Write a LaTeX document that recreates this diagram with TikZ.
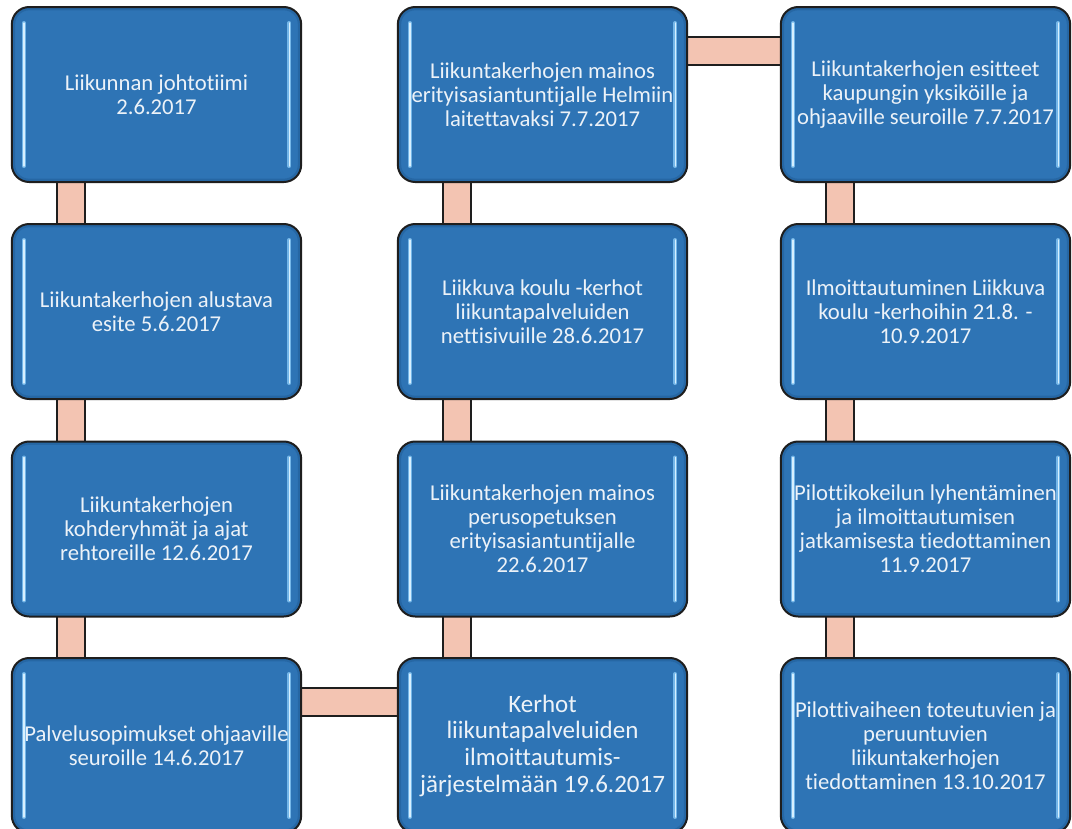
\documentclass[tikz,border=0pt]{standalone}
\usepackage{fontspec}
\setmainfont{Carlito}[RawFeature={-liga,-clig,-calt,-dlig}]
\usetikzlibrary{calc}
\definecolor{boxfill}{RGB}{46,116,181}
\definecolor{boxedge}{RGB}{30,30,30}
\definecolor{boxdark}{RGB}{30,88,145}
\definecolor{hlglow}{RGB}{140,205,250}
\definecolor{hlcore}{RGB}{215,240,255}
\definecolor{barfill}{RGB}{243,196,178}
\definecolor{txt}{RGB}{236,242,248}
\pgfdeclarelayer{background}
\pgfsetlayers{background,main}
\tikzset{
  stepbox/.style={
    draw=boxedge, line width=1.5pt, fill=boxfill, rounded corners=13pt,
    minimum width=217pt, minimum height=131.25pt, inner sep=0pt,
    text=txt, align=center, font=\fontsize{17}{18}\selectfont,
    path picture={
      \draw[boxdark, line width=5pt, opacity=0.45, rounded corners=13pt]
        (path picture bounding box.south west) rectangle (path picture bounding box.north east);
      \foreach \sx/\anc in {9pt/west,-9pt/east}{
        \draw[hlglow, line width=3pt, line cap=round, opacity=0.75]
          ([xshift=\sx,yshift=-12pt]path picture bounding box.north \anc) --
          ([xshift=\sx,yshift=12pt]path picture bounding box.south \anc);
        \draw[hlcore, line width=1pt, line cap=round]
          ([xshift=\sx,yshift=-12pt]path picture bounding box.north \anc) --
          ([xshift=\sx,yshift=12pt]path picture bounding box.south \anc);
      }
    }
  },
  bigtext/.style={font=\fontsize{18.75}{20}\selectfont},
  barout/.style={draw=boxedge, line width=22.5pt},
  barin/.style={draw=barfill, line width=20pt},
}
\begin{document}
\begin{tikzpicture}[x=0.75pt,y=-0.75pt]
\useasboundingbox (0,0) rectangle (1072,829);
% column 1
\node[stepbox] (b1) at (156.5,94.5) {Liikunnan johtotiimi\\2.6.2017};
\node[stepbox] (b2) at (156.5,311.5) {Liikuntakerhojen alustava\\esite 5.6.2017};
\node[stepbox] (b3) at (156.5,529) {Liikuntakerhojen\\kohderyhmät ja ajat\\rehtoreille 12.6.2017};
\node[stepbox] (b4) at (156.5,745.5) {Palvelusopimukset ohjaaville\\seuroille 14.6.2017};
% column 2
\node[stepbox] (c1) at (542.5,94.5) {Liikuntakerhojen mainos\\erityisasiantuntijalle Helmiin\\laitettavaksi 7.7.2017};
\node[stepbox] (c2) at (542.5,311.5) {Liikkuva koulu -kerhot\\liikuntapalveluiden\\nettisivuille 28.6.2017};
\node[stepbox] (c3) at (542.5,529) {Liikuntakerhojen mainos\\perusopetuksen\\erityisasiantuntijalle\\22.6.2017};
\node[stepbox, bigtext] (c4) at (542.5,745.5) {Kerhot\\liikuntapalveluiden\\ilmoittautumis-\\järjestelmään 19.6.2017};
% column 3
\node[stepbox] (d1) at (925.5,94.5) {Liikuntakerhojen esitteet\\kaupungin yksiköille ja\\ohjaaville seuroille 7.7.2017};
\node[stepbox] (d2) at (925.5,311.5) {Ilmoittautuminen Liikkuva\\koulu -kerhoihin 21.8. -\\10.9.2017};
\node[stepbox] (d3) at (925.5,529) {Pilottikokeilun lyhentäminen\\ja ilmoittautumisen\\jatkamisesta tiedottaminen\\11.9.2017};
\node[stepbox] (d4) at (925.5,745.5) {Pilottivaiheen toteutuvien ja\\peruuntuvien\\liikuntakerhojen\\tiedottaminen 13.10.2017};
% connectors
\begin{pgfonlayer}{background}
\foreach \a/\b in {b1/b2,b2/b3,b3/b4,c4/c3,c3/c2,c2/c1,d1/d2,d2/d3,d3/d4}{
  \draw[barout] ([xshift=-64.1pt]\a.center) -- ([xshift=-64.1pt]\b.center);
  \draw[barin] ([xshift=-64.1pt]\a.center) -- ([xshift=-64.1pt]\b.center);
}
\foreach \a/\b in {b4/c4,c1/d1}{
  \draw[barout] ([yshift=32.6pt]\a.center) -- ([yshift=32.6pt]\b.center);
  \draw[barin] ([yshift=32.6pt]\a.center) -- ([yshift=32.6pt]\b.center);
}
\end{pgfonlayer}
\end{tikzpicture}
\end{document}
